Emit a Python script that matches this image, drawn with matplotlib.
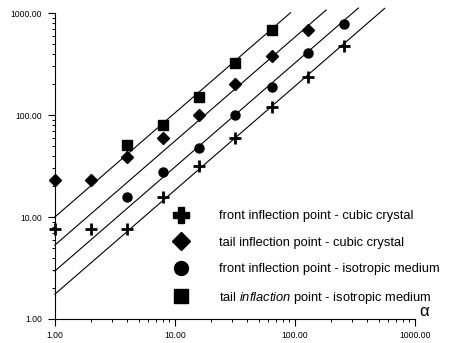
import matplotlib

matplotlib.use("Agg")
import matplotlib.pyplot as plt
import numpy as np
from matplotlib.lines import Line2D
from matplotlib.ticker import FixedLocator, FixedFormatter, LogLocator, NullFormatter

plt.rcParams["font.family"] = ["Liberation Sans", "DejaVu Sans"]
plt.rcParams["mathtext.fontset"] = "custom"
plt.rcParams["mathtext.it"] = "Liberation Sans:italic"
plt.rcParams["mathtext.rm"] = "Liberation Sans"

# alpha values (powers of two)
alpha = [1, 2, 4, 8, 16, 32, 64, 128, 256]

front_cubic = [7.7, 7.7, 7.7, 15.7, 31.6, 60, 120, 234, 479]
tail_cubic_x = [1, 2, 4, 8, 16, 32, 64, 128]
tail_cubic = [23, 23, 38.7, 59.6, 100, 200, 380, 676]
front_iso_x = [4, 8, 16, 32, 64, 128, 256]
front_iso = [15.7, 27.6, 47.4, 100, 190, 407, 776]
tail_iso_x = [4, 8, 16, 32, 64]
tail_iso = [50.8, 79.8, 151, 324, 676]

# fitted straight lines (log-log): value at alpha=1, slope, last alpha
fit_intercept = [1.75, 2.95, 5.3, 10.0]
fit_slope = 1.02
fit_xmax = [560, 338, 182, 92]

labels = [
    "front inflection point - cubic crystal",
    "tail inflection point - cubic crystal",
    "front inflection point - isotropic medium",
    r"tail $\mathit{inflaction}$ point - isotropic medium",
]
tick_vals = [1, 10, 100, 1000]
tick_labels = ["1.00", "10.00", "100.00", "1000.00"]

fig = plt.figure(figsize=(4.53, 3.43), dpi=100)
ax = fig.add_axes([0.121, 0.070, 0.795, 0.892])
ax.set_xscale("log")
ax.set_yscale("log")
ax.set_xlim(1, 1000)
ax.set_ylim(1, 1000)

for c, xm in zip(fit_intercept, fit_xmax):
    xs = np.array([1.0, xm])
    ax.plot(xs, c * xs ** fit_slope, color="black", linewidth=0.8, clip_on=False)

kw = dict(linestyle="none", color="black", clip_on=False, zorder=3)
ax.plot(alpha, front_cubic, marker="+", markersize=8, markeredgewidth=2.0, **kw)
ax.plot(tail_cubic_x, tail_cubic, marker="D", markersize=6, **kw)
ax.plot(front_iso_x, front_iso, marker="o", markersize=6.5, **kw)
ax.plot(tail_iso_x, tail_iso, marker="s", markersize=6.5, **kw)

handles = [
    Line2D([], [], linestyle="none", color="black", marker="P", markersize=11),
    Line2D([], [], linestyle="none", color="black", marker="D", markersize=9),
    Line2D([], [], linestyle="none", color="black", marker="o", markersize=10),
    Line2D([], [], linestyle="none", color="black", marker="s", markersize=9.5),
]
ax.legend(handles, labels, loc="upper left", bbox_to_anchor=(168 / 453, 1 - 210 / 343),
          bbox_transform=fig.transFigure, frameon=False, fontsize=9.3,
          handlelength=2.0, handletextpad=1.95, labelspacing=1.13,
          borderpad=0, borderaxespad=0)

for side in ("top", "right"):
    ax.spines[side].set_visible(False)
for side in ("left", "bottom"):
    ax.spines[side].set_linewidth(0.8)

for axis in (ax.xaxis, ax.yaxis):
    axis.set_major_locator(FixedLocator(tick_vals))
    axis.set_major_formatter(FixedFormatter(tick_labels))
    axis.set_minor_locator(LogLocator(base=10, subs=np.arange(2, 10)))
    axis.set_minor_formatter(NullFormatter())
ax.tick_params(which="major", direction="out", length=5, width=0.8, labelsize=6.2, pad=4)
ax.tick_params(which="minor", direction="out", length=2.5, width=0.7)

fig.text(419 / 453, 1 - 312 / 343, "\u03b1", fontsize=12, ha="left", va="center")

fig.savefig("out.png", dpi=100)
